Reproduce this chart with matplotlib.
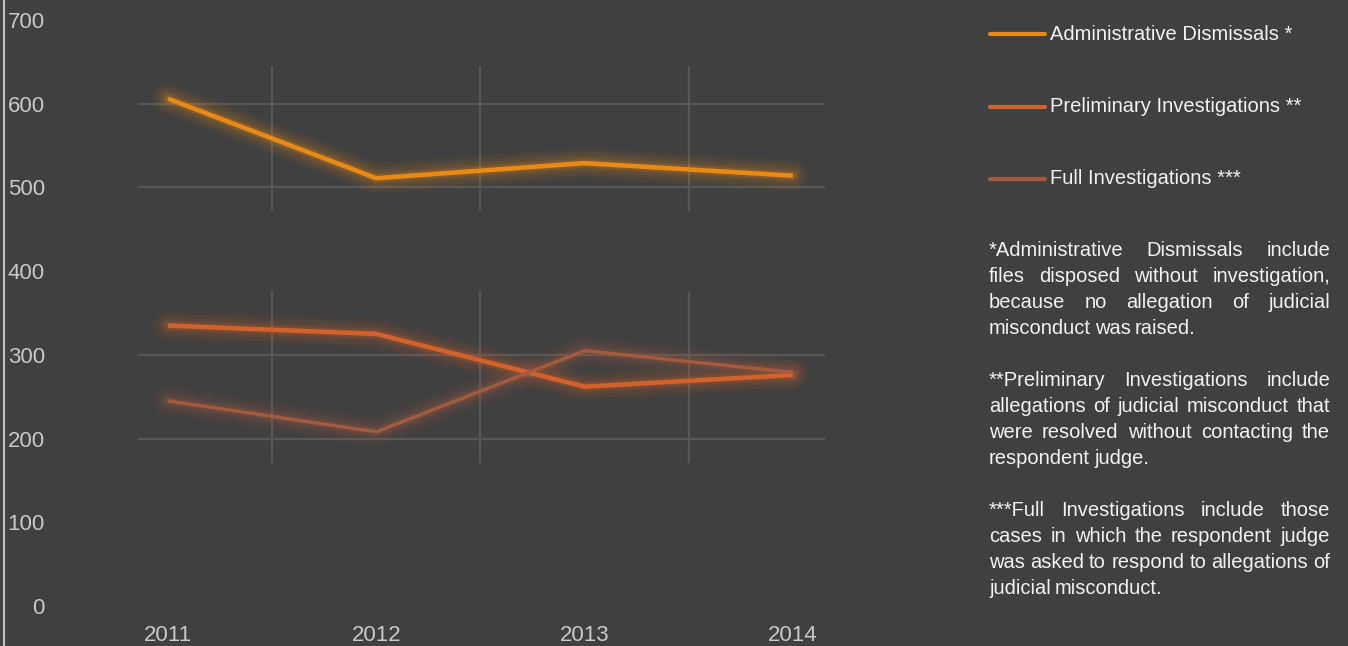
import matplotlib.pyplot as plt
from matplotlib.lines import Line2D

years = [2011, 2012, 2013, 2014]
admin = [606, 511, 529, 514]
prelim = [335, 325, 262, 276]
full = [245, 208, 305, 279]

names = ["Administrative Dismissals *", "Preliminary Investigations **", "Full Investigations ***"]
colors = ["#E98A16", "#D2612B", "#A35B40"]
y_ticks = [0, 100, 200, 300, 400, 500, 600, 700]

notes = [
    ["*Administrative Dismissals include",
     "files disposed without investigation,",
     "because no allegation of judicial",
     "misconduct was raised."],
    ["**Preliminary Investigations include",
     "allegations of judicial misconduct that",
     "were resolved without contacting the",
     "respondent judge."],
    ["***Full Investigations include those",
     "cases in which the respondent judge",
     "was asked to respond to allegations of",
     "judicial misconduct."],
]

BG = "#404040"
FONT = ["Liberation Sans Narrow", "Liberation Sans", "DejaVu Sans"]
plt.rcParams['font.family'] = FONT

W, H = 1348, 646
fig = plt.figure(figsize=(W / 100, H / 100), dpi=100, facecolor=BG)
# axes placed in pixel terms: x 138..825, y 606 (0) .. 20 (700)
ax = fig.add_axes([138 / W, 40 / H, 687 / W, 586 / H], facecolor=BG)
ax.set_xlim(2010.856, 2014.154)
ax.set_ylim(0, 700)
for s in ax.spines.values():
    s.set_visible(False)

# partial grid, as in the original
gc = "#575757"
for yv in [600, 500, 300, 200]:
    ax.plot([2010.856, 2014.154], [yv, yv], color=gc, lw=1.6, zorder=1)
for xv in [2011.5, 2012.5, 2013.5]:
    ax.plot([xv, xv], [473, 644], color=gc, lw=1.6, zorder=1)
    ax.plot([xv, xv], [172, 374], color=gc, lw=1.6, zorder=1)

# lines with soft glow
data = [admin, prelim, full]
widths = [3.2, 3.2, 2.4]
for vals, c, lw in zip(data, colors, widths):
    for gw, ga in [(22, 0.05), (17, 0.07), (12, 0.09), (8, 0.12), (5.5, 0.16)]:
        ax.plot(years, vals, color=c, lw=gw, alpha=ga, solid_capstyle='round',
                solid_joinstyle='round', zorder=2)
    ax.plot(years, vals, color=c, lw=lw, solid_capstyle='butt', zorder=3)

ax.set_xticks(years)
ax.set_xticklabels([str(y) for y in years])
ax.set_yticks(y_ticks)
ax.set_yticklabels([str(v) for v in y_ticks])
ax.tick_params(axis='both', length=0, colors="#c9c9c9", labelsize=16)
ax.tick_params(axis='y', pad=67)
ax.tick_params(axis='x', pad=14)

# left frame line
fig.add_artist(Line2D([4 / W, 4 / W], [0, 1], color="#c0c0c0", lw=1.5))

# legend
leg_y = [34, 107, 179]
for name, c, yp in zip(names, colors, leg_y):
    fig.add_artist(Line2D([990 / W, 1045 / W], [1 - yp / H, 1 - yp / H],
                          color=c, lw=3, solid_capstyle='round'))
    fig.text(1050 / W, 1 - yp / H, name, color="#f2f2f2", fontsize=14.5,
             va='center', ha='left')

# justified notes
fig.canvas.draw()
rend = fig.canvas.get_renderer()


def put_line(words, x0, x1, yp, justify):
    arts = [fig.text(0, 1 - yp / H, w, color="#f2f2f2", fontsize=14.5,
                     va='center', ha='left') for w in words]
    ws = [a.get_window_extent(rend).width for a in arts]
    gap = 4.0
    if justify and len(words) > 1:
        gap = max((x1 - x0 - sum(ws)) / (len(words) - 1), 3.0)
    x = x0
    for a, w in zip(arts, ws):
        a.set_x(x / W)
        x += w + gap


starts = [250, 380, 510]
for para, y0 in zip(notes, starts):
    for i, line in enumerate(para):
        put_line(line.split(" "), 989, 1330, y0 + i * 26, i < len(para) - 1)

fig.savefig("out.png", dpi=100, facecolor=BG)
